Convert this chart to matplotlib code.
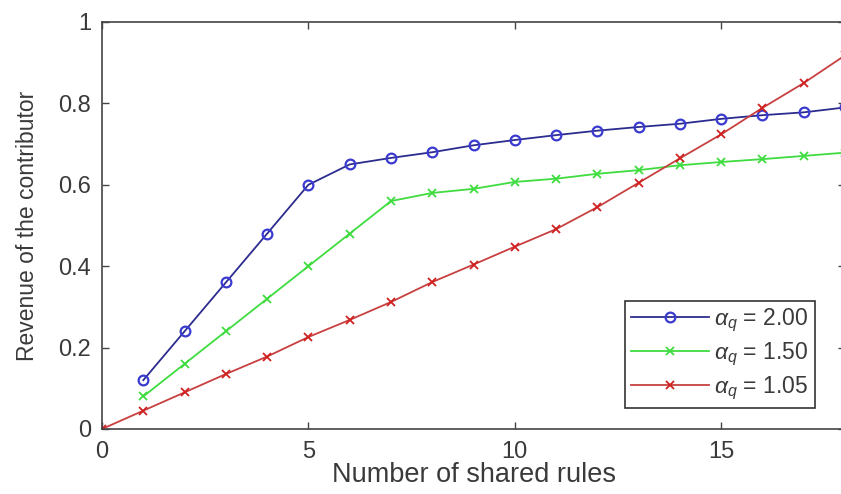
import numpy as np
import matplotlib
matplotlib.use("Agg")
import matplotlib.pyplot as plt
from matplotlib.ticker import FixedLocator, FixedFormatter

plt.rcParams["font.family"] = ["Liberation Sans", "DejaVu Sans"]
plt.rcParams["mathtext.fontset"] = "custom"
plt.rcParams["mathtext.rm"] = "Liberation Sans"
plt.rcParams["mathtext.it"] = "Liberation Sans:italic"

# ===================== Data =====================
rules_hi = list(range(1, 19))
rules_lo = list(range(0, 19))

revenue_200 = [0.12, 0.24, 0.36, 0.48, 0.60, 0.65, 0.666, 0.68, 0.697, 0.71,
               0.722, 0.733, 0.742, 0.750, 0.762, 0.771, 0.778, 0.790]
revenue_150 = [0.08, 0.16, 0.24, 0.32, 0.40, 0.48, 0.56, 0.58, 0.59, 0.607,
               0.615, 0.627, 0.636, 0.648, 0.656, 0.663, 0.671, 0.679]
revenue_105 = [0.0, 0.045, 0.09, 0.135, 0.178, 0.226, 0.268, 0.312, 0.361, 0.404,
               0.448, 0.491, 0.545, 0.605, 0.665, 0.724, 0.789, 0.850, 0.918]

labels = [r"$\alpha_q$ = 2.00", r"$\alpha_q$ = 1.50", r"$\alpha_q$ = 1.05"]

x_ticks = [0, 5, 10, 15]
y_ticks = [0, 0.2, 0.4, 0.6, 0.8, 1.0]
y_ticklabels = ["0", "0.2", "0.4", "0.6", "0.8", "1"]

# ===================== Plot =====================
text_c = "#3a3a3a"
fig = plt.figure(figsize=(8.41, 4.94), dpi=100)
ax = fig.add_axes([0.1213, 0.1316, 0.8835, 0.8239])

ax.plot(rules_hi, revenue_200, color="#2c2c90", lw=1.3, marker="o", ms=7,
        mfc="none", mec="#3a3ad0", mew=1.6, label=labels[0])
ax.plot(rules_hi, revenue_150, color="#3fdc3f", lw=1.3, marker="x", ms=6,
        mew=1.3, label=labels[1])
ax.plot(rules_lo, revenue_105, color="#c84040", lw=1.3, marker="x", ms=6,
        mew=1.3, mec="#d02020", label=labels[2])

ax.set_xlim(0, 18)
ax.set_ylim(0, 1)
ax.xaxis.set_major_locator(FixedLocator(x_ticks))
ax.yaxis.set_major_locator(FixedLocator(y_ticks))
ax.yaxis.set_major_formatter(FixedFormatter(y_ticklabels))

ax.tick_params(direction="in", top=True, right=True, length=5, width=1,
               colors="#444444", labelcolor=text_c, labelsize=17)
ax.tick_params(axis="x", pad=9)
ax.tick_params(axis="y", pad=8)
for s in ax.spines.values():
    s.set_color("#444444")
    s.set_linewidth(1.2)

ax.set_xlabel("Number of shared rules", fontsize=19.5, color=text_c, labelpad=-1)
ax.set_ylabel("Revenue of the contributor", fontsize=16.5, color=text_c, labelpad=14)

leg = ax.legend(loc="upper left", bbox_to_anchor=(0.704, 0.314), fontsize=16.5,
                handlelength=3.4, handletextpad=0.25, borderpad=0.25,
                labelspacing=0.28, fancybox=False, framealpha=1,
                borderaxespad=0)
leg.get_frame().set_edgecolor("#333333")
leg.get_frame().set_linewidth(1.2)
for t in leg.get_texts():
    t.set_color(text_c)

fig.savefig("out.png", dpi=100)
